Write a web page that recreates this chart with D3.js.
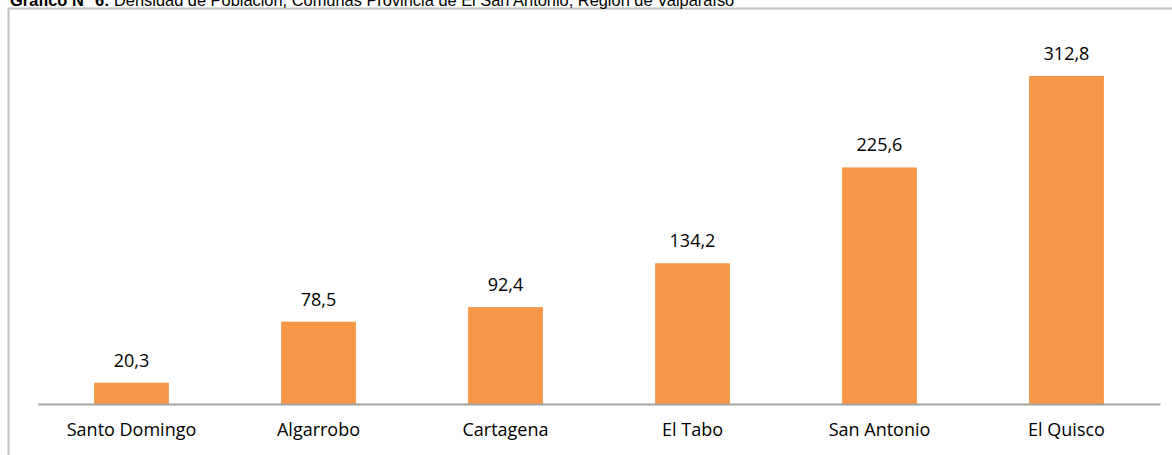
<!DOCTYPE html>
<html><head><meta charset="utf-8">
<script src="https://cdn.jsdelivr.net/npm/d3@7"></script>
<style>body{margin:0;background:#fff}svg{display:block}</style>
</head><body>
<svg id="c" width="1172" height="455"></svg>
<script>
const categories = ["Santo Domingo","Algarrobo","Cartagena","El Tabo","San Antonio","El Quisco"];
const values = [20.3, 78.5, 92.4, 134.2, 225.6, 312.8];
const valueLabels = ["20,3","78,5","92,4","134,2","225,6","312,8"];

const svg = d3.select("#c");
// frame
svg.append("rect").attr("x",8.5).attr("y",8.5).attr("width",1180).attr("height",460)
  .attr("fill","none").attr("stroke","#c0c0c0").attr("stroke-width",2);
// title
const t = svg.append("text").attr("x",10).attr("y",6)
  .attr("font-family","Liberation Sans, Arial, sans-serif").attr("font-size",16.4).attr("fill","#000");
t.append("tspan").attr("font-weight","bold").text("Gráfico N° 6:");
t.append("tspan").text(" Densidad de Población, Comunas Provincia de El San Antonio, Región de Valparaíso");

const x = d3.scaleBand().domain(categories).range([38,1160]).paddingInner(0.6).paddingOuter(0.3);
const y = d3.scaleLinear().domain([0, 312.8]).range([404, 76]);

svg.selectAll("rect.bar").data(values).enter().append("rect").attr("class","bar")
  .attr("x",(d,i)=>x(categories[i])).attr("width",x.bandwidth())
  .attr("y",d=>y(d)).attr("height",d=>y(0)-y(d)).attr("fill","#f79646");

const font = "'Open Sans', sans-serif";
const ax = svg.append("g").attr("transform","translate(0,404)").call(d3.axisBottom(x).tickSize(0).tickPadding(19));
ax.select(".domain").attr("stroke","#a0a0a0").attr("stroke-width",2);
ax.selectAll("text").attr("font-family",font).attr("font-size",18).attr("fill","#000");

svg.selectAll("text.val").data(values).enter().append("text").attr("class","val")
  .attr("x",(d,i)=>x(categories[i])+x.bandwidth()/2).attr("y",d=>y(d)-16)
  .attr("text-anchor","middle").attr("font-family",font)
  .attr("font-size",18).attr("fill","#000").text((d,i)=>valueLabels[i]);
</script>
</body></html>
